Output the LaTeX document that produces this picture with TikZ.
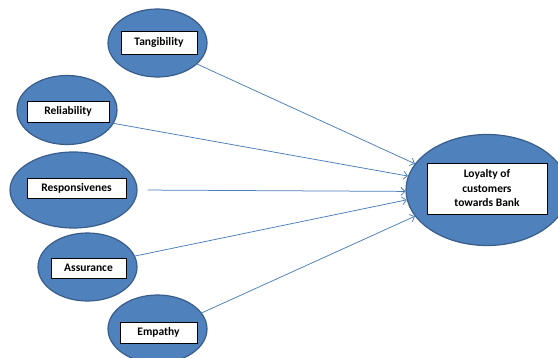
\documentclass[tikz,border=0pt]{standalone}
\usepackage{fontspec}
\setmainfont{Carlito}[BoldFont={Carlito Bold}]
\usetikzlibrary{shapes.geometric,arrows.meta}
\definecolor{ovalfill}{HTML}{4F81BD}
\definecolor{ovalline}{HTML}{385D8A}
\definecolor{arrowline}{HTML}{4A7EBB}
\tikzset{
	oval/.style={ellipse, fill=ovalfill, draw=ovalline, line width=1.2pt, inner sep=0pt},
	namebox/.style={rectangle, fill=white, draw=black, line width=0.8pt, inner sep=0pt, align=center, font=\fontsize{11.5}{14.5}\selectfont\bfseries},
	link/.style={-{Straight Barb[length=4pt, width=8pt]}, draw=arrowline, line width=0.75pt}
}

\begin{document}
\begin{tikzpicture}[x=1pt, y=-1pt]
			%%%%% START %%%%%
			
			\useasboundingbox (0, 0) rectangle (558, 358);
			
			\node[oval, minimum width=99, minimum height=68] (tang) at (157.5, 43) {};
			\node[namebox, minimum width=76, minimum height=23] (tangbox) at (159, 42.5) {Tangibility};
			
			\node[oval, minimum width=100, minimum height=69] (rel) at (67, 110) {};
			\node[namebox, minimum width=82, minimum height=21] (relbox) at (68, 111.5) {Reliability};
			
			\node[oval, minimum width=127, minimum height=76] (resp) at (73.5, 190) {};
			\node[namebox, minimum width=99, minimum height=20] (respbox) at (76.5, 188) {Responsivenes};
			
			\node[oval, minimum width=99, minimum height=68] (assur) at (87.5, 267) {};
			\node[namebox, minimum width=75, minimum height=20] (assurbox) at (88.5, 268) {Assurance};
			
			\node[oval, minimum width=99, minimum height=68] (emp) at (157.5, 329) {};
			\node[namebox, minimum width=77, minimum height=21] (empbox) at (158.5, 332.5) {Empathy};
			
			\node[oval, minimum width=162, minimum height=111] (loyal) at (487, 190) {};
			\node[namebox, minimum width=120, minimum height=51] (loyalbox) at (487, 188.5) {Loyalty of\\customers\\towards Bank};
			
			\draw[link] (tang.-28) -- (loyal.160);
			\draw[link] (rel.-16) -- (loyal.170);
			\draw[link, shorten <=10pt] (resp.east) -- (loyal.181);
			\draw[link] (assur.13) -- (loyal.187);
			\draw[link] (emp.20) -- (loyal.200);
			
			%%%%% END %%%%%
		\end{tikzpicture}
\end{document}
